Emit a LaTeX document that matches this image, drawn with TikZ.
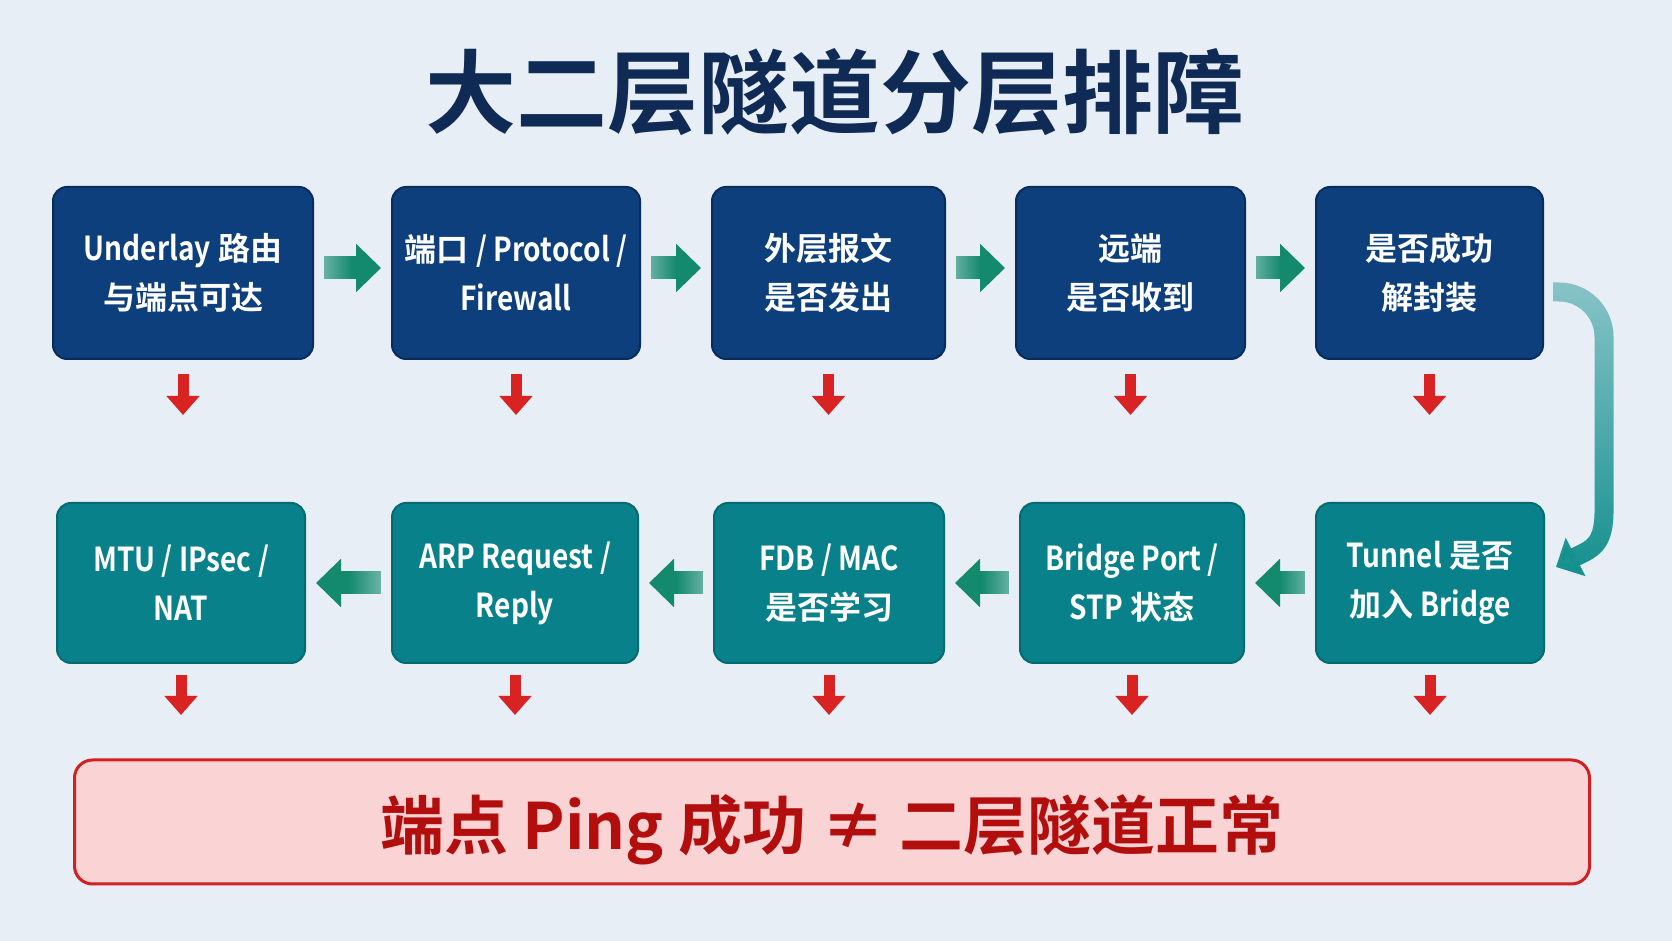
\documentclass[tikz,border=0pt]{standalone}
\usepackage{fontspec}
\setmainfont{Noto Sans CJK SC}[BoldFont={Noto Sans CJK SC Bold}]
\newfontfamily\ltnfont{Noto Sans CJK SC}[FakeStretch=0.85, BoldFont={Noto Sans CJK SC Bold}]
\newcommand\ltn[1]{{\ltnfont\fontsize{33}{49}\selectfont\bfseries #1}}
\usepackage{tikz}
\usetikzlibrary{arrows.meta,positioning,fadings}
\definecolor{bgPale}{HTML}{E7EEF6}
\definecolor{navyBox}{HTML}{0D3F7D}
\definecolor{navyEdge}{HTML}{082C5C}
\definecolor{tealBox}{HTML}{08818A}
\definecolor{tealEdge}{HTML}{066A71}
\definecolor{flowGreen}{HTML}{138A6E}
\definecolor{loopTeal}{HTML}{14908E}
\definecolor{failRed}{HTML}{D92323}
\definecolor{noteFill}{HTML}{FAD4D4}
\definecolor{noteEdge}{HTML}{D21F1F}
\definecolor{noteText}{HTML}{B30E0E}
\definecolor{titleNavy}{HTML}{0F2A54}
\tikzfading[name=fade right, left color=transparent!70, right color=transparent!0, middle color=transparent!0]
\tikzfading[name=fade left, left color=transparent!0, right color=transparent!70, middle color=transparent!0]
\tikzfading[name=fade down, top color=transparent!55, bottom color=transparent!0]

\begin{document}
\begin{tikzpicture}[
  x=1pt, y=1pt,
  font=\fontsize{32}{49}\selectfont\bfseries,
  stepbox/.style={rounded corners=14pt, align=center, text=white, line width=2pt, inner sep=0pt},
  topbox/.style={stepbox, fill=navyBox, draw=navyEdge, minimum height=172pt},
  lowbox/.style={stepbox, fill=tealBox, draw=tealEdge, minimum height=160pt},
  notebox/.style={rounded corners=18pt, fill=noteFill, draw=noteEdge, line width=3pt, text=noteText, minimum width=1515pt, minimum height=124pt, text height=66pt, text depth=10pt, font=\fontsize{64}{64}\selectfont\bfseries},
  flowR/.style={draw=flowGreen, line width=23pt, -{Triangle[width=47pt,length=25pt]}, shorten <=10pt, shorten >=10pt, path fading=fade right},
  flowL/.style={draw=flowGreen, line width=23pt, -{Triangle[width=47pt,length=25pt]}, shorten <=10pt, shorten >=10pt, path fading=fade left},
  turn/.style={draw=loopTeal, line width=19pt, -{Triangle[width=42pt,length=22pt]}, path fading=fade down},
  drop/.style={draw=failRed, line width=11pt, -{Triangle[width=32pt,length=19pt]}},
]
\fill[bgPale] (0,0) rectangle (1672,941);

\node[font=\fontsize{91}{91}\selectfont\bfseries, text=titleNavy] (title) at (835,849) {大二层隧道分层排障};

\node[topbox, minimum width=260pt] (b1) at (183,668) {\ltn{Underlay} 路由\\与端点可达};
\node[topbox, minimum width=248pt, right=77pt of b1] (b2) {端口 \ltn{/ Protocol /}\\\ltn{Firewall}};
\node[topbox, minimum width=233pt, right=70pt of b2] (b3) {外层报文\\是否发出};
\node[topbox, minimum width=229pt, right=69pt of b3] (b4) {远端\\是否收到};
\node[topbox, minimum width=227pt, right=69pt of b4] (b5) {是否成功\\解封装};

\node[lowbox, minimum width=228pt] (b10) at (1430,358) {\ltn{Tunnel} 是否\\加入 \ltn{Bridge}};
\node[lowbox, minimum width=224pt, left=70pt of b10] (b9) {\ltn{Bridge Port /}\\\ltn{STP} 状态};
\node[lowbox, minimum width=230pt, left=74pt of b9] (b8) {\ltn{FDB / MAC}\\是否学习};
\node[lowbox, minimum width=246pt, left=74pt of b8] (b7) {\ltn{ARP Request /}\\\ltn{Reply}};
\node[lowbox, minimum width=248pt, left=85pt of b7] (b6) {\ltn{MTU / IPsec /}\\\ltn{NAT}};

\node[notebox] (note) at (832,119) {端点 Ping 成功 ≠ 二层隧道正常};

\draw[flowR] ([yshift=5pt]b1.east) -- ([yshift=5pt]b2.west);
\draw[flowR] ([yshift=5pt]b2.east) -- ([yshift=5pt]b3.west);
\draw[flowR] ([yshift=5pt]b3.east) -- ([yshift=5pt]b4.west);
\draw[flowR] ([yshift=5pt]b4.east) -- ([yshift=5pt]b5.west);
\draw[flowL] (b10) -- (b9);
\draw[flowL] (b9) -- (b8);
\draw[flowL] (b8) -- (b7);
\draw[flowL] (b7) -- (b6);

\draw[turn] ([xshift=9pt,yshift=-19pt]b5.east) -- ++(6pt,0) arc[start angle=90,end angle=0,radius=45pt]
  -- ++(0,-174pt) .. controls +(0,-35pt) and +(35pt,18pt) .. ([xshift=11pt,yshift=16pt]b10.east);

\foreach \b in {b1,b2,b3,b4,b5}
  \draw[drop] ([yshift=-14pt]\b.south) -- ++(0,-41pt);
\foreach \b in {b6,b7,b8,b9,b10}
  \draw[drop] ([yshift=-11pt]\b.south) -- ++(0,-40pt);
\end{tikzpicture}
\end{document}
